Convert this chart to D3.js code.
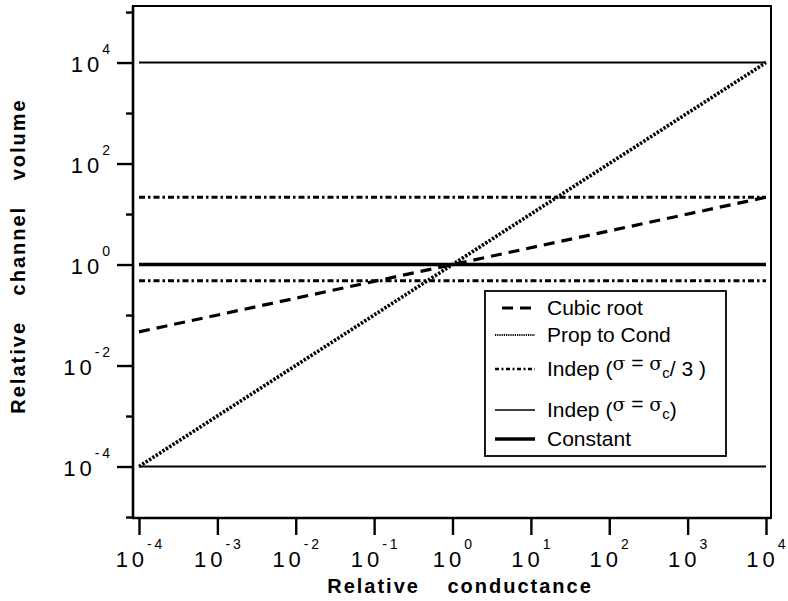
<!DOCTYPE html>
<html>
<head>
<meta charset="utf-8">
<script src="https://cdn.jsdelivr.net/npm/d3@7"></script>
<style>
  html, body { margin: 0; padding: 0; background: #fff; }
  svg { display: block; }
  text { font-family: "Liberation Sans", Arial, Helvetica, sans-serif; fill: #000; }
</style>
</head>
<body>
<svg id="chart" width="788" height="601"></svg>
<script>
// Relative conductance range spanned by every curve (end points)
const conductance = [1e-4, 1e4];

// Relative channel volume at those end points, one array per model
const cubicRoot   = [0.0464, 21.5];
const propToCond  = [1e-4, 1e4];
const indepThirdHigh = [21.5, 21.5];
const indepThirdLow  = [0.48, 0.48];
const indepHigh   = [1e4, 1e4];
const indepLow    = [1e-4, 1e-4];
const constant    = [1, 1];

// Axis ticks (powers of ten)
const xTickExp = [-4, -3, -2, -1, 0, 1, 2, 3, 4];
const yMajorExp = [-4, -2, 0, 2, 4];
const yMinorExp = [-5, -3, -1, 1, 3, 5];

const legendLabels = ["Cubic root", "Prop to Cond", "Indep (σ = σc/ 3 )", "Indep (σ = σc)", "Constant"];

const svg = d3.select("#chart");

const frame = { left: 133, right: 771, top: 6, bottom: 518 };

const x = d3.scaleLog().domain([1e-4, 1e4]).range([139, 766]);
const y = d3.scaleLog().domain([1e-5, Math.pow(10, 5.12)]).range([517, 6]);

const line = d3.line().x(d => x(d[0])).y(d => y(d[1]));
const pts = vals => conductance.map((c, i) => [c, vals[i]]);

// Line styles per model
const styles = {
  cubic:  { width: 3.2, dash: "11,7" },
  prop:   { width: 3.6, dash: "2.4,1.6" },
  third:  { width: 3,   dash: "6,3,2.5,3" },
  indep:  { width: 2,   dash: null },
  constant: { width: 3.6, dash: null }
};

const series = [
  { vals: indepHigh, s: styles.indep },
  { vals: indepLow, s: styles.indep },
  { vals: indepThirdHigh, s: styles.third },
  { vals: indepThirdLow, s: styles.third },
  { vals: constant, s: styles.constant },
  { vals: cubicRoot, s: styles.cubic },
  { vals: propToCond, s: styles.prop }
];

const g = svg.append("g");
g.selectAll("path.series")
  .data(series)
  .join("path")
  .attr("class", "series")
  .attr("d", d => line(pts(d.vals)))
  .attr("fill", "none")
  .attr("stroke", "#000")
  .attr("stroke-width", d => d.s.width)
  .attr("stroke-dasharray", d => d.s.dash);

// Frame: heavier left and bottom axes
svg.append("rect")
  .attr("x", frame.left).attr("y", frame.top)
  .attr("width", frame.right - frame.left)
  .attr("height", frame.bottom - frame.top)
  .attr("fill", "none").attr("stroke", "#000").attr("stroke-width", 2);
svg.append("path")
  .attr("d", `M${frame.left},${frame.top}V${frame.bottom}H${frame.right}`)
  .attr("fill", "none").attr("stroke", "#000").attr("stroke-width", 2.6);

// X axis ticks
const xAxis = d3.axisBottom(x)
  .tickValues(xTickExp.map(e => Math.pow(10, e)))
  .tickSize(17).tickFormat("");
const gx = svg.append("g").attr("transform", `translate(0,${frame.bottom})`).call(xAxis);
gx.select(".domain").remove();
gx.selectAll(".tick line").attr("stroke-width", 2.4);

// Y axis ticks: labelled even decades, short odd decades
const yMajor = d3.axisLeft(y).tickValues(yMajorExp.map(e => Math.pow(10, e))).tickSize(16).tickFormat("");
const yMinor = d3.axisLeft(y).tickValues(yMinorExp.map(e => Math.pow(10, e))).tickSize(7).tickFormat("");
[yMajor, yMinor].forEach(ax => {
  const gy = svg.append("g").attr("transform", `translate(${frame.left},0)`).call(ax);
  gy.select(".domain").remove();
  gy.selectAll(".tick line").attr("stroke-width", 2.4);
});

// Power-of-ten labels
function powerLabel(sel, e) {
  sel.append("tspan").text("10").attr("letter-spacing", "4px");
  sel.append("tspan")
    .text(e < 0 ? "-\u2009" + (-e) : String(e))
    .attr("font-size", 14).attr("dy", -18).attr("dx", -1);
}

xTickExp.forEach(e => {
  const t = svg.append("text")
    .attr("x", x(Math.pow(10, e)))
    .attr("y", 567)
    .attr("font-size", 22)
    .attr("text-anchor", "middle");
  powerLabel(t, e);
});

yMajorExp.forEach(e => {
  const t = svg.append("text")
    .attr("x", 110)
    .attr("y", y(Math.pow(10, e)) + 9)
    .attr("font-size", 22)
    .attr("text-anchor", "end");
  powerLabel(t, e);
});

// Axis titles
svg.append("text")
  .attr("x", (frame.left + frame.right) / 2 + 8)
  .attr("y", 593)
  .attr("text-anchor", "middle")
  .attr("font-size", 20).attr("font-weight", "bold")
  .attr("letter-spacing", "2px").attr("word-spacing", "20px")
  .text("Relative conductance");

svg.append("text")
  .attr("transform", `translate(25,${(frame.top + frame.bottom) / 2 - 6}) rotate(-90)`)
  .attr("text-anchor", "middle")
  .attr("font-size", 20).attr("font-weight", "bold")
  .attr("letter-spacing", "2px").attr("word-spacing", "18px")
  .text("Relative channel volume");

// Legend
const legend = svg.append("g");
legend.append("rect")
  .attr("x", 485).attr("y", 291).attr("width", 241).attr("height", 165)
  .attr("fill", "#fff").attr("stroke", "#000").attr("stroke-width", 1.8);

const legendRows = [
  { label: legendLabels[0], s: styles.cubic, y: 315, x0: 502 },
  { label: legendLabels[1], s: { width: 2.2, dash: "1.2,1" }, y: 342, x0: 495 },
  { label: legendLabels[2], s: { width: 2.4, dash: "4,2.5,2,2.5" }, y: 376, x0: 495 },
  { label: legendLabels[3], s: { width: 1.6, dash: null }, y: 417, x0: 495 },
  { label: legendLabels[4], s: { width: 3.4, dash: null }, y: 446, x0: 495 }
];

legendRows.forEach((r, i) => {
  legend.append("line")
    .attr("x1", r.x0).attr("x2", 535)
    .attr("y1", r.y - 7).attr("y2", r.y - 7)
    .attr("stroke", "#000").attr("stroke-width", r.s.width)
    .attr("stroke-dasharray", r.s.dash);
  const t = legend.append("text").attr("x", 547).attr("y", r.y).attr("font-size", 21);
  if (i === 2 || i === 3) {
    // Greek sigma is set raised in a serif face, subscript c on the baseline
    t.append("tspan").text("Indep (");
    t.append("tspan").text("σ").attr("font-family", "DejaVu Serif").attr("font-size", 19).attr("dy", -6);
    t.append("tspan").text(" = ");
    t.append("tspan").text("σ").attr("font-family", "DejaVu Serif").attr("font-size", 19);
    t.append("tspan").text("c").attr("font-size", 15).attr("dy", 8);
    t.append("tspan").text(i === 2 ? "/ 3 )" : ")").attr("dy", -2);
  } else {
    t.text(r.label);
  }
});
</script>
</body>
</html>
